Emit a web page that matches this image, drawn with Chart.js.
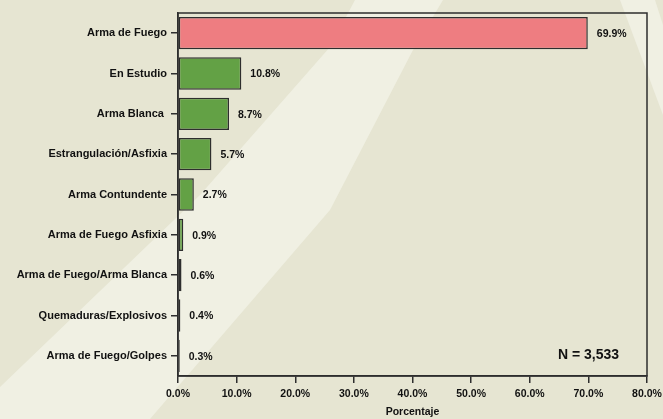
<!DOCTYPE html>
<html>
<head>
<meta charset="utf-8">
<script src="https://cdn.jsdelivr.net/npm/chart.js@4.4.1/dist/chart.umd.min.js"></script>
<style>
	html, body { margin: 0; padding: 0; background: #E6E5D2; }
	#causaChart { display: block; }
</style>
</head>
<body>
<canvas id="causaChart" width="663" height="419"></canvas>
<script>
const categorias = [
	'Arma de Fuego',
	'En Estudio',
	'Arma Blanca ',
	'Estrangulación/Asfixia',
	'Arma Contundente',
	'Arma de Fuego Asfixia',
	'Arma de Fuego/Arma Blanca',
	'Quemaduras/Explosivos',
	'Arma de Fuego/Golpes'
];
const porcentajes = [69.9, 10.8, 8.7, 5.7, 2.7, 0.9, 0.6, 0.4, 0.3];
const colores = ['#EE7D81', '#63A145', '#63A145', '#63A145', '#63A145', '#63A145', '#63A145', '#63A145', '#63A145'];
const ticksX = [0, 10, 20, 30, 40, 50, 60, 70, 80];
const totalN = 'N = 3,533';

const fuente = "'Liberation Sans', Arial, sans-serif";
const tinta = '#111111';
const linea = '#2e2e2e';

// background with the light diagonal swooshes
const fondo = {
	id: 'fondo',
	beforeDraw(chart) {
		const c = chart.ctx;
		c.save();
		c.fillStyle = '#E6E5D2';
		c.fillRect(0, 0, chart.width, chart.height);
		c.fillStyle = '#F0F0E3';
		c.beginPath();
		c.moveTo(355, 0);
		c.lineTo(443, 0);
		c.lineTo(413, 50);
		c.lineTo(330, 210);
		c.lineTo(181, 383);
		c.lineTo(150, 419);
		c.lineTo(0, 419);
		c.lineTo(0, 387);
		c.lineTo(200, 195);
		c.lineTo(330, 47);
		c.closePath();
		c.fill();
		c.beginPath();
		c.moveTo(620, 0);
		c.lineTo(655, 0);
		c.lineTo(663, 25);
		c.lineTo(663, 115);
		c.closePath();
		c.fill();
		c.restore();
	}
};

// box around the plot, value labels and the N note
const marco = {
	id: 'marco',
	afterDraw(chart) {
		const c = chart.ctx;
		const a = chart.chartArea;
		c.save();
		c.strokeStyle = linea;
		c.lineWidth = 1.5;
		c.strokeRect(a.left, a.top, a.right - a.left, a.bottom - a.top);

		c.fillStyle = tinta;
		c.font = 'bold 10.5px ' + fuente;
		c.textAlign = 'left';
		c.textBaseline = 'middle';
		const meta = chart.getDatasetMeta(0);
		meta.data.forEach(function(bar, i) {
			c.fillText(porcentajes[i].toFixed(1) + '%', bar.x + 9, bar.y + 1);
		});

		c.font = 'bold 14px ' + fuente;
		c.textAlign = 'right';
		c.fillText(totalN, a.right - 28, a.bottom - 21);
		c.restore();
	}
};

const ctx = document.getElementById('causaChart').getContext('2d');

new Chart(ctx, {
	type: 'bar',
	data: {
		labels: categorias,
		datasets: [{
			data: porcentajes,
			backgroundColor: colores,
			borderColor: linea,
			borderWidth: 1.5,
			borderSkipped: false,
			categoryPercentage: 1.0,
			barPercentage: 0.8
		}]
	},
	options: {
		indexAxis: 'y',
		responsive: false,
		animation: false,
		devicePixelRatio: 1,
		layout: { padding: { top: 13, right: 16, left: 0, bottom: 0 } },
		plugins: {
			legend: { display: false },
			tooltip: { enabled: false }
		},
		scales: {
			x: {
				min: 0,
				max: 80,
				afterBuildTicks: function(scale) {
					scale.ticks = ticksX.map(function(v) { return { value: v }; });
				},
				afterFit: function(scale) {
					scale.height = 43;
					scale.paddingLeft = 0;
					scale.paddingRight = 0;
				},
				grid: { drawOnChartArea: false, drawTicks: true, tickLength: 7, color: linea, lineWidth: 1.5 },
				border: { color: linea, width: 1.5 },
				ticks: {
					color: tinta,
					padding: 5,
					maxRotation: 0,
					font: { family: fuente, size: 10.5, weight: 'bold' },
					callback: function(v) { return v.toFixed(1) + '%'; }
				},
				title: {
					display: true,
					text: 'Porcentaje',
					color: tinta,
					font: { family: fuente, size: 10.5, weight: 'bold' },
					padding: { top: 0, bottom: 1 }
				}
			},
			y: {
				afterFit: function(scale) {
					scale.width = 178;
					scale.paddingTop = 0;
					scale.paddingBottom = 0;
				},
				grid: { drawOnChartArea: false, drawTicks: true, tickLength: 7, color: linea, lineWidth: 1.5, offset: false },
				border: { color: linea, width: 1.5 },
				ticks: {
					color: tinta,
					padding: 4,
					font: { family: fuente, size: 11, weight: 'bold' }
				}
			}
		}
	},
	plugins: [fondo, marco]
});
</script>
</body>
</html>
